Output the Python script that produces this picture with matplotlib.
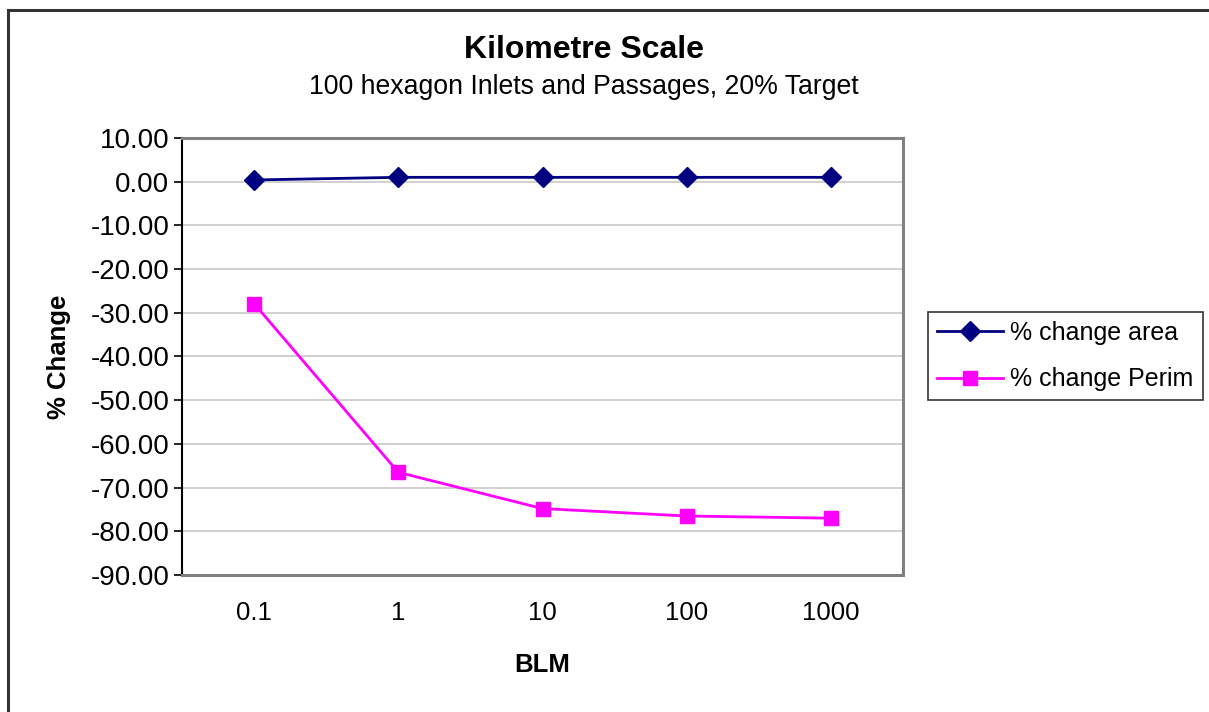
import matplotlib
matplotlib.use("Agg")
import matplotlib.pyplot as plt
from matplotlib.lines import Line2D

plt.rcParams['font.family'] = ['Liberation Sans', 'DejaVu Sans']

# Data
blm_labels = ["0.1", "1", "10", "100", "1000"]
pct_change_area = [0.4, 1.0, 1.0, 1.0, 1.0]
pct_change_perim = [-27.9, -66.5, -74.8, -76.5, -77.0]
y_ticks = [10, 0, -10, -20, -30, -40, -50, -60, -70, -80, -90]

W, H = 1209, 712
fig = plt.figure(figsize=(W / 100, H / 100), dpi=100)
fig.patch.set_facecolor("white")

# Outer chart frame (only top and left edges fall inside the image)
frame_left, frame_top = 8 / W, 1 - 10 / H
fig.add_artist(Line2D([frame_left, frame_left], [0, frame_top], transform=fig.transFigure,
                      color="#333333", lw=2.2))
fig.add_artist(Line2D([frame_left, 1.0], [frame_top, frame_top], transform=fig.transFigure,
                      color="#333333", lw=2.2))

ax = fig.add_axes([182 / W, 1 - 575 / H, (903 - 182) / W, (575 - 138) / H])
x = list(range(len(blm_labels)))

ax.plot(x, pct_change_area, color="#000080", lw=2, marker="D", markersize=10,
        markerfacecolor="#000080", markeredgecolor="#000080", label="% change area",
        zorder=3)
ax.plot(x, pct_change_perim, color="#FF00FF", lw=2, marker="s", markersize=10,
        markerfacecolor="#FF00FF", markeredgecolor="#FF00FF", label="% change Perim",
        zorder=3)

ax.set_xlim(-0.5, len(blm_labels) - 0.5)
ax.set_ylim(-90, 10)
ax.set_yticks(y_ticks)
ax.set_yticklabels([f"{v:.2f}" for v in y_ticks], fontsize=20)
ax.set_xticks(x)
ax.set_xticklabels(blm_labels, fontsize=18.5)
ax.tick_params(axis="x", length=0, pad=19)
ax.tick_params(axis="y", length=6, width=1.2, direction="out", color="black", pad=3)

ax.grid(axis="y", color="#C8C8C8", lw=1.2)
ax.set_axisbelow(True)

for side in ["top", "right", "bottom"]:
    ax.spines[side].set_color("#808080")
    ax.spines[side].set_linewidth(2.2)
ax.spines["left"].set_color("black")
ax.spines["left"].set_linewidth(1.5)

ax.set_xlabel("BLM", fontsize=18.5, fontweight="bold", labelpad=20)
ax.set_ylabel("% Change", fontsize=18.5, fontweight="bold", labelpad=14)

fig.text(584 / W, 1 - 50 / H, "Kilometre Scale", ha="center", va="center",
         fontsize=23, fontweight="bold")
fig.text(584 / W, 1 - 87 / H, "100 hexagon Inlets and Passages, 20% Target",
         ha="center", va="center", fontsize=19.2)

leg = fig.legend(loc="center left", bbox_to_anchor=(928 / W, 1 - 356 / H),
                 fontsize=18, frameon=True, fancybox=False, edgecolor="black",
                 handlelength=2.65, handletextpad=0.28, borderpad=0.36,
                 labelspacing=0.9, borderaxespad=0)
leg.get_frame().set_linewidth(1.2)

fig.savefig("out.png", dpi=100, facecolor="white")
